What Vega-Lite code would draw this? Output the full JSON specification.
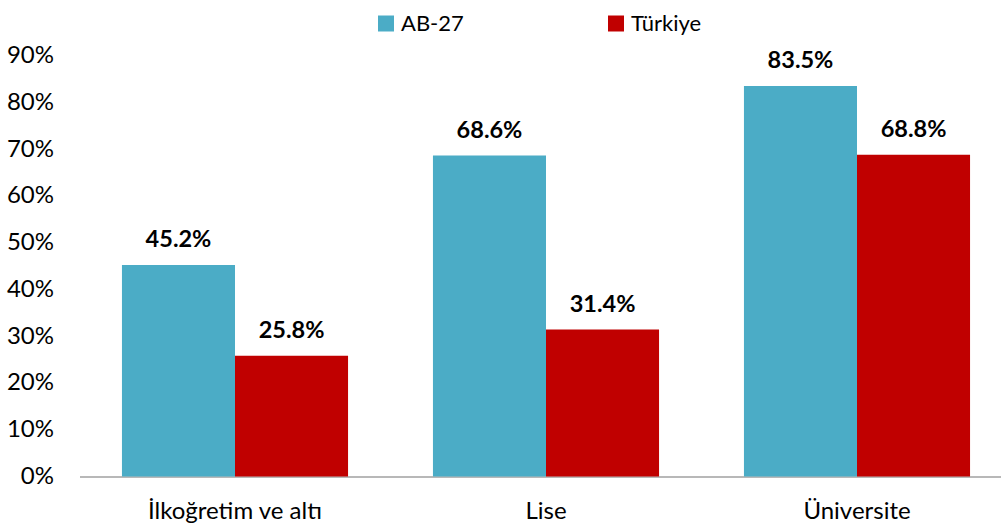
{
  "$schema": "https://vega.github.io/schema/vega-lite/v6.json",
  "width": 933,
  "height": 421,
  "autosize": {"type": "none"},
  "padding": {"left": 79.5, "top": 55.5, "right": 0, "bottom": 52},
  "background": "white",
  "config": {
    "view": {"stroke": null},
    "font": "Lato",
    "axis": {"labelFont": "Lato", "labelFontSize": 24, "labelColor": "#000000", "grid": false, "ticks": false, "title": null}
  },
  "data": {
    "values": [
      {"category": "İlkoğretim ve altı", "series": "AB-27", "value": 0.452, "label": "45.2%"},
      {"category": "İlkoğretim ve altı", "series": "Türkiye", "value": 0.258, "label": "25.8%"},
      {"category": "Lise", "series": "AB-27", "value": 0.686, "label": "68.6%"},
      {"category": "Lise", "series": "Türkiye", "value": 0.314, "label": "31.4%"},
      {"category": "Üniversite", "series": "AB-27", "value": 0.835, "label": "83.5%"},
      {"category": "Üniversite", "series": "Türkiye", "value": 0.688, "label": "68.8%"}
    ]
  },
  "encoding": {
    "x": {
      "field": "category", "type": "nominal", "sort": null,
      "scale": {"paddingInner": 0.273, "paddingOuter": 0.1365},
      "axis": {"labelAngle": 0, "domain": true, "domainColor": "#a0a0a0", "domainWidth": 1.5, "labelPadding": 23, "labelBaseline": "top"}
    },
    "xOffset": {
      "field": "series", "type": "nominal",
      "scale": {"domain": ["AB-27", "Türkiye"], "paddingInner": 0, "paddingOuter": 0}
    },
    "y": {
      "field": "value", "type": "quantitative",
      "scale": {"domain": [0, 0.9], "nice": false},
      "axis": {"format": ".0%", "values": [0, 0.1, 0.2, 0.3, 0.4, 0.5, 0.6, 0.7, 0.8, 0.9], "domain": false, "labelPadding": 26}
    }
  },
  "layer": [
    {
      "mark": {"type": "bar"},
      "encoding": {
        "color": {
          "field": "series", "type": "nominal",
          "scale": {"domain": ["AB-27", "Türkiye"], "range": ["#4BACC6", "#C00000"]},
          "legend": {
            "title": null, "orient": "none", "direction": "horizontal",
            "legendX": 295.5, "legendY": -43,
            "symbolType": "square", "symbolSize": 256, "symbolStrokeWidth": 0,
            "symbolOpacity": 1,
            "labelFont": "Lato", "labelFontSize": 22, "labelColor": "#000000",
            "labelOffset": 4, "columnPadding": 141
          }
        }
      }
    },
    {
      "mark": {"type": "text", "font": "Lato", "fontSize": 23.5, "fontWeight": "bold", "color": "#000000", "baseline": "middle", "dy": -25},
      "encoding": {
        "text": {"field": "label"}
      }
    }
  ]
}
